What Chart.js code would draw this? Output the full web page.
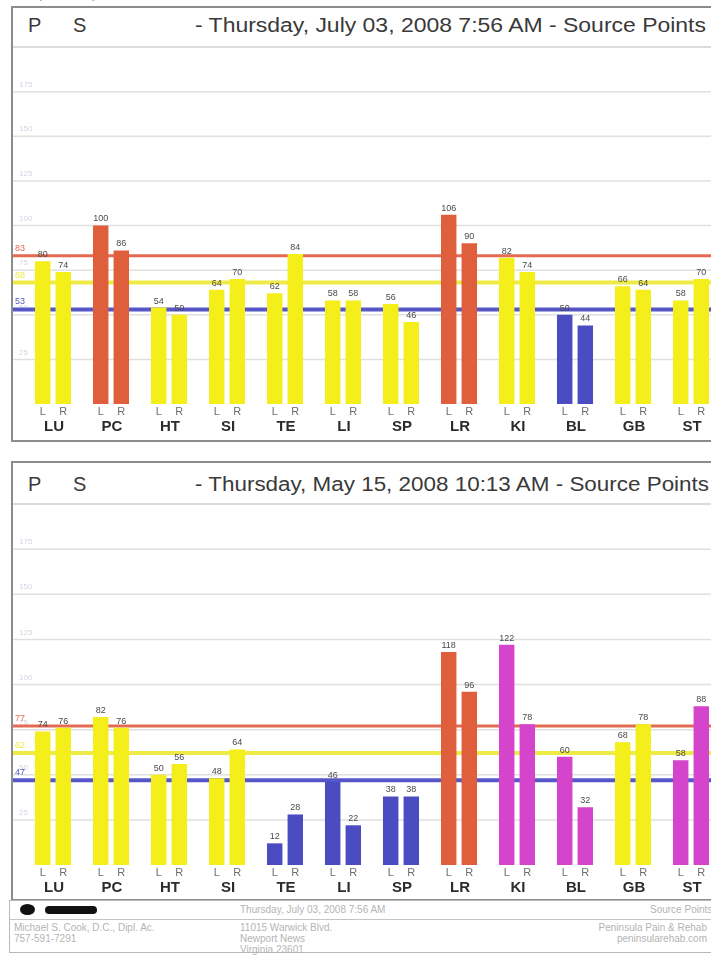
<!DOCTYPE html>
<html><head><meta charset="utf-8">
<script src="https://cdn.jsdelivr.net/npm/chart.js@4.4.1/dist/chart.umd.min.js"></script>
<style>
html,body{margin:0;padding:0;background:#fff;}
body{width:711px;height:955px;overflow:hidden;position:relative;font-family:"Liberation Sans",Arial,sans-serif;}
.box{position:absolute;border:2px solid #8c8c8c;background:#fff;box-sizing:border-box;}
.hdr{position:absolute;font-size:20px;line-height:20px;color:#3a3a3a;white-space:nowrap;transform-origin:0 0;display:inline-block;}
.sep{position:absolute;height:2px;background:#dcdcdc;}
canvas{position:absolute;}
.ft{position:absolute;font-size:10px;line-height:11px;color:#b4b4b4;white-space:nowrap;}
</style></head><body>

<div class="hdr" style="left:14px;top:-17px;font-size:15px;color:#9a9a9a;">Graph Comparison</div>

<!-- top chart frame -->
<div class="box" style="left:11px;top:6px;width:730px;height:436px;"></div>
<div class="hdr" style="left:28px;top:15px;">P</div>
<div class="hdr" style="left:73px;top:15px;">S</div>
<div class="hdr fit" data-w="511" style="left:195px;top:15px;" id="h1"></div>
<div class="sep" style="left:13px;top:46px;width:720px;"></div>
<canvas id="c1" width="714" height="393" style="left:13px;top:47px;width:714px;height:393px;"></canvas>

<!-- bottom chart frame -->
<div class="box" style="left:11px;top:461px;width:730px;height:440px;"></div>
<div class="hdr" style="left:28px;top:474px;">P</div>
<div class="hdr" style="left:73px;top:474px;">S</div>
<div class="hdr fit" data-w="514" style="left:195px;top:474px;" id="h2"></div>
<div class="sep" style="left:13px;top:503px;width:720px;"></div>
<canvas id="c2" width="714" height="395" style="left:13px;top:504px;width:714px;height:395px;"></canvas>

<!-- footer -->
<div style="position:absolute;left:9px;top:900px;width:730px;height:53px;border:1.5px solid #b8b8b8;box-sizing:border-box;"></div>
<div style="position:absolute;left:10px;top:919px;width:720px;height:1px;background:#c4c4c4;"></div>
<div style="position:absolute;left:20px;top:904px;width:15px;height:11px;border-radius:50%;background:#111;"></div>
<div style="position:absolute;left:45px;top:906px;width:52px;height:8px;border-radius:4px;background:#111;"></div>
<div class="ft" style="left:240px;top:904px;">Thursday, July 03, 2008 7:56 AM</div>
<div class="ft" style="left:650px;top:904px;width:57px;text-align:right;">Source Points</div>
<div class="ft" style="left:14px;top:922px;">Michael S. Cook, D.C., Dipl. Ac.</div>
<div class="ft" style="left:14px;top:933px;">757-591-7291</div>
<div class="ft" style="left:240px;top:922px;">11015 Warwick Blvd.</div>
<div class="ft" style="left:240px;top:933px;">Newport News</div>
<div class="ft" style="left:240px;top:944px;">Virginia 23601</div>
<div class="ft" style="left:560px;top:922px;width:147px;text-align:right;">Peninsula Pain &amp; Rehab</div>
<div class="ft" style="left:560px;top:933px;width:147px;text-align:right;">peninsularehab.com</div>

<script>
// ---------- data ----------
const categories = ['LU','PC','HT','SI','TE','LI','SP','LR','KI','BL','GB','ST'];
const sideLabels = ['L','R'];
const yTicks = [25, 50, 75, 100, 125, 150, 175];
const yMax = 200;

const julyTitle = '- Thursday, July 03, 2008 7:56 AM - Source Points';
const julyLeft  = [80, 100, 54, 64, 62, 58, 56, 106, 82, 50, 66, 58];
const julyRight = [74, 86, 50, 70, 84, 58, 46, 90, 74, 44, 64, 70];
const julyLeftTone  = ['Y','R','Y','Y','Y','Y','Y','R','Y','B','Y','Y'];
const julyRightTone = ['Y','R','Y','Y','Y','Y','Y','R','Y','B','Y','Y'];
const julyRefs = [83, 68, 53];

const mayTitle = '- Thursday, May 15, 2008 10:13 AM - Source Points';
const mayLeft  = [74, 82, 50, 48, 12, 46, 38, 118, 122, 60, 68, 58];
const mayRight = [76, 76, 56, 64, 28, 22, 38, 96, 78, 32, 78, 88];
const mayLeftTone  = ['Y','Y','Y','Y','B','B','B','R','M','M','Y','M'];
const mayRightTone = ['Y','Y','Y','Y','B','B','B','R','M','M','Y','M'];
const mayRefs = [77, 62, 47];

// ---------- styles ----------
const palette = {Y:'#f4ee1a', R:'#df5e3c', B:'#4c4cc2', M:'#d545cb'};
const refColors = ['#e46a52', '#efeb46', '#5656c8'];
const refWidths = [3, 4, 4];

// header text fit
function setHeader(id, text){
  const el = document.getElementById(id);
  el.textContent = text;
  const target = +el.dataset.w;
  const w = el.getBoundingClientRect().width;
  el.style.transform = 'scaleX(' + (target / w) + ')';
}
setHeader('h1', julyTitle);
setHeader('h2', mayTitle);

const overlay = {
  id: 'overlay',
  beforeDatasetsDraw(chart, args, opts) {
    const {ctx, scales: {y}} = chart;
    ctx.save();
    ctx.lineWidth = 1.5;
    ctx.strokeStyle = '#e0e0e0';
    ctx.font = '8px "Liberation Sans", Arial';
    ctx.textAlign = 'left';
    ctx.textBaseline = 'bottom';
    yTicks.forEach(v => {
      const py = y.getPixelForValue(v);
      ctx.beginPath(); ctx.moveTo(0, py); ctx.lineTo(chart.width, py); ctx.stroke();
      ctx.fillStyle = '#d2d5e4';
      ctx.fillText(String(v), 6, py - 3);
    });
    opts.refs.forEach((v, i) => {
      const py = y.getPixelForValue(v);
      ctx.strokeStyle = refColors[i];
      ctx.lineWidth = refWidths[i];
      ctx.beginPath(); ctx.moveTo(0, py); ctx.lineTo(chart.width, py); ctx.stroke();
      ctx.fillStyle = refColors[i];
      ctx.font = '9px "Liberation Sans", Arial';
      ctx.fillText(String(v), 2, py - 3);
    });
    ctx.restore();
  },
  afterDatasetsDraw(chart) {
    const {ctx, chartArea: a, scales: {x}} = chart;
    ctx.save();
    ctx.textAlign = 'center';
    chart.data.datasets.forEach((ds, di) => {
      const meta = chart.getDatasetMeta(di);
      meta.data.forEach((bar, i) => {
        ctx.fillStyle = '#4a4a4a';
        ctx.font = '9px "Liberation Sans", Arial';
        ctx.textBaseline = 'bottom';
        ctx.fillText(String(ds.data[i]), bar.x, bar.y - 2);
        ctx.fillStyle = '#6e6e6e';
        ctx.font = '11px "Liberation Sans", Arial';
        ctx.textBaseline = 'middle';
        ctx.fillText(sideLabels[di], bar.x, a.bottom + 8);
      });
    });
    ctx.fillStyle = '#2c2c2c';
    ctx.font = 'bold 15px "Liberation Sans", Arial';
    ctx.textBaseline = 'middle';
    categories.forEach((c, i) => {
      ctx.fillText(c, x.getPixelForValue(i) + 1, a.bottom + 23);
    });
    ctx.restore();
  }
};

function makeChart(id, left, right, leftTone, rightTone, refs, padBottom) {
  return new Chart(document.getElementById(id), {
    type: 'bar',
    data: {
      labels: categories,
      datasets: [
        {label: sideLabels[0], data: left, backgroundColor: leftTone.map(t => palette[t]),
         categoryPercentage: 0.71, barPercentage: 0.75, borderWidth: 0},
        {label: sideLabels[1], data: right, backgroundColor: rightTone.map(t => palette[t]),
         categoryPercentage: 0.71, barPercentage: 0.75, borderWidth: 0}
      ]
    },
    options: {
      responsive: false,
      animation: false,
      devicePixelRatio: 1,
      layout: {padding: {left: 11, right: 7, top: 0, bottom: padBottom}},
      plugins: {legend: {display: false}, tooltip: {enabled: false}, overlay: {refs: refs}},
      scales: {
        x: {display: false, offset: true},
        y: {display: false, min: 0, max: yMax}
      }
    },
    plugins: [overlay]
  });
}

makeChart('c1', julyLeft, julyRight, julyLeftTone, julyRightTone, julyRefs, 36);
makeChart('c2', mayLeft, mayRight, mayLeftTone, mayRightTone, mayRefs, 34);
</script>
</body></html>
